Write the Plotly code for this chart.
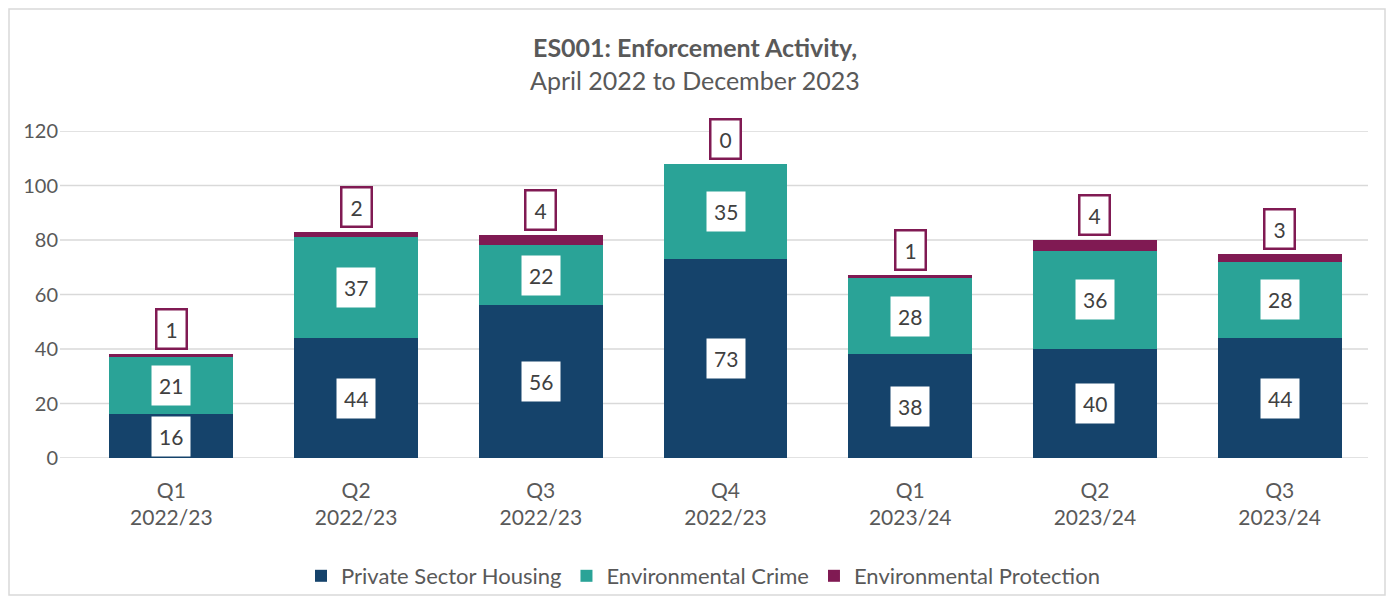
import plotly.graph_objects as go

# quarters and series values
quarters = ["Q1<br>2022/23", "Q2<br>2022/23", "Q3<br>2022/23", "Q4<br>2022/23",
            "Q1<br>2023/24", "Q2<br>2023/24", "Q3<br>2023/24"]
private_housing = [16, 44, 56, 73, 38, 40, 44]
env_crime = [21, 37, 22, 35, 28, 36, 28]
env_protection = [1, 2, 4, 0, 1, 4, 3]
y_ticks = [0, 20, 40, 60, 80, 100, 120]

navy = "#15436B"
teal = "#2AA397"
maroon = "#801A53"
grey_txt = "#595959"
grid = "#D9D9D9"
font = "Lato"

# the page has an 8px body margin, so keep the figure inside the window
W, H = 1378, 588
# plot area in page pixels
L, T, PW, PH = 79, 131, 1293, 327

def px(x):
    return (x - L) / PW

def py(y):
    return (T + PH - y) / PH

fig = go.Figure()
for name, vals, col in [("Private Sector Housing", private_housing, navy),
                        ("Environmental Crime", env_crime, teal),
                        ("Environmental Protection", env_protection, maroon)]:
    fig.add_trace(go.Bar(x=quarters, y=vals, name=name, marker_color=col,
                         marker_line_width=0, width=0.67))

# gridlines, a little longer than the plot area on the left
for v in y_ticks:
    fig.add_shape(type="line", xref="paper", yref="y", x0=px(60), x1=px(1368),
                  y0=v, y1=v, line=dict(color=grid, width=1.5), layer="below")

# white value boxes inside the bars
for i, q in enumerate(quarters):
    base = 0
    for vals in (private_housing, env_crime):
        fig.add_annotation(x=q, y=base + vals[i] / 2, text=str(vals[i]),
                           showarrow=False, bgcolor="white", borderpad=7,
                           font=dict(family=font, size=21, color="#404040"))
        base += vals[i]
    total = base + env_protection[i]
    fig.add_annotation(x=q, y=total, yanchor="bottom", yshift=4,
                       text=str(env_protection[i]), showarrow=False, width=16,
                       bgcolor="white", bordercolor=maroon, borderwidth=2.5,
                       borderpad=6,
                       font=dict(family=font, size=21, color="#404040"))

# titles
fig.add_annotation(xref="paper", yref="paper", x=px(695), y=py(47), yanchor="middle",
                   text="<b>ES001: Enforcement Activity,</b>", showarrow=False,
                   font=dict(family=font, size=25, color=grey_txt))
fig.add_annotation(xref="paper", yref="paper", x=px(695), y=py(80), yanchor="middle",
                   text="April 2022 to December 2023", showarrow=False,
                   font=dict(family=font, size=25, color=grey_txt))

# outer border along the figure edges
fig.add_shape(type="rect", xref="paper", yref="paper",
              x0=px(9), x1=px(8 + W - 1), y0=py(8 + H - 1), y1=py(9),
              line=dict(color=grid, width=1.5))

fig.update_layout(
    barmode="stack",
    width=W, height=H,
    margin=dict(l=L - 8, r=W - (L - 8) - PW, t=T - 8, b=H - (T - 8) - PH,
                autoexpand=False),
    plot_bgcolor="white", paper_bgcolor="white",
    font=dict(family=font, size=20, color=grey_txt),
    showlegend=True,
    legend=dict(orientation="h", xref="container", yref="container",
                x=(703 - 8) / W, xanchor="center", y=1 - (576 - 8) / H,
                yanchor="middle", font=dict(size=22, color=grey_txt),
                bgcolor="rgba(0,0,0,0)", traceorder="normal"),
    bargap=0.33,
)
fig.update_yaxes(range=[0, 120], tickvals=y_ticks, showgrid=False, zeroline=False,
                 tickfont=dict(size=20, color=grey_txt), automargin=False,
                 ticklabelstandoff=20, fixedrange=True)
fig.update_xaxes(showline=False, tickfont=dict(size=21, color=grey_txt),
                 automargin=False, ticklabelstandoff=18)

fig.write_html("out.html")
